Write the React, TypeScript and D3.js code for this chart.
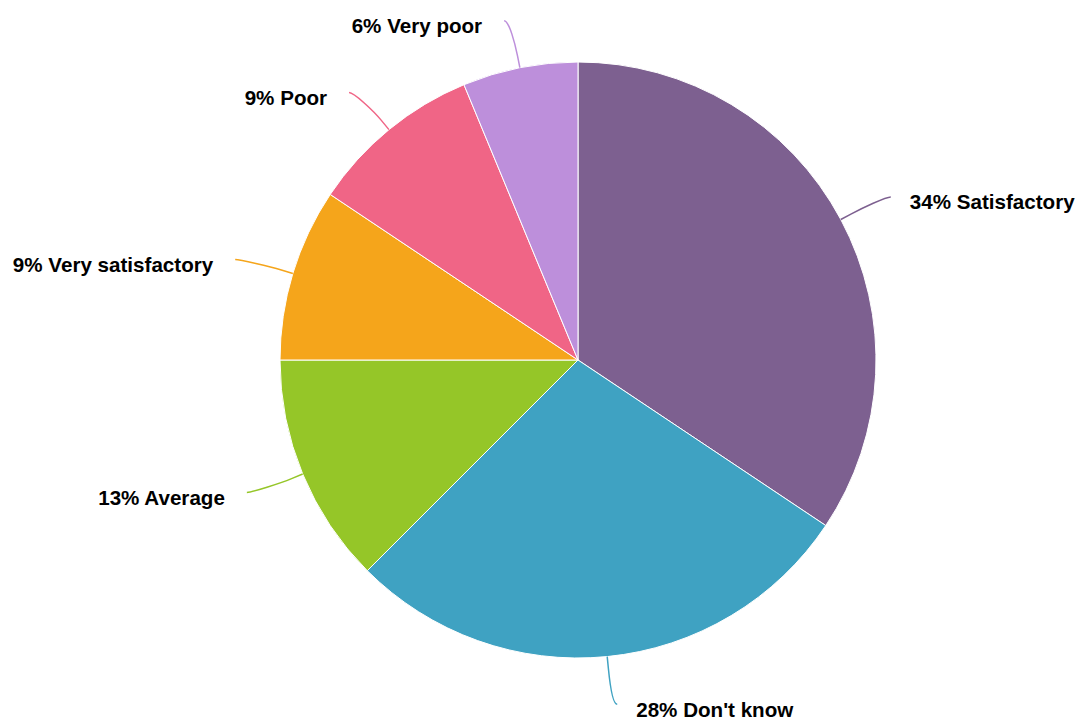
import React from "react";
import * as d3 from "d3";

const categories = ["Satisfactory", "Don't know", "Average", "Very satisfactory", "Poor", "Very poor"];
const counts = [11, 9, 4, 3, 3, 2];
const colors = ["#7d6090", "#3fa2c2", "#95c628", "#f5a51b", "#f06586", "#bd8fdb"];

const W = 1077;
const H = 721;
const cx = 578;
const cy = 360;
const R = 298;

export default function App() {
  const total = d3.sum(counts);
  const data = categories.map((c, i) => ({ name: c, value: counts[i], color: colors[i] }));
  const pie = d3.pie<any>().value((d) => d.value).sort(null);
  const arcs = pie(data);
  const arcGen = d3.arc<any>().innerRadius(0).outerRadius(R);

  return (
    <svg width={W} height={H} style={{ position: "absolute", left: 0, top: 0, background: "#fff" }}>
      <g transform={`translate(${cx},${cy})`}>
        {arcs.map((a, i) => (
          <path key={i} d={arcGen(a) || ""} fill={a.data.color} stroke="#fff" strokeWidth={1} strokeLinejoin="round" />
        ))}
        {arcs.map((a, i) => {
          const mid = (a.startAngle + a.endAngle) / 2;
          const s = Math.sin(mid);
          const c = -Math.cos(mid);
          const right = s >= 0;
          const tx = s * R;
          const ty = c * R;
          const bx = s * (R + 12);
          const by = c * (R + 12);
          const lx = s * (right ? 349 : 353) + (right ? 5 : -5);
          const ly = c * 346;
          const c1x = lx + (right ? -5 : 5);
          const path = `M${lx},${ly} C${c1x},${ly} ${2 * bx - tx},${2 * by - ty} ${bx},${by} L${tx},${ty}`;
          const pct = Math.round((a.data.value / total) * 100);
          return (
            <g key={"l" + i}>
              <path d={path} fill="none" stroke={a.data.color} strokeWidth={1.5} />
              <text
                x={lx + (right ? 19 : -22)}
                y={ly + 5}
                textAnchor={right ? "start" : "end"}
                dominantBaseline="central"
                fontFamily="'Liberation Sans', Arial, Helvetica, sans-serif"
                fontWeight="bold"
                fontSize={20.6}
                fill="#000"
              >
                {`${pct}% ${a.data.name}`}
              </text>
            </g>
          );
        })}
      </g>
    </svg>
  );
}
